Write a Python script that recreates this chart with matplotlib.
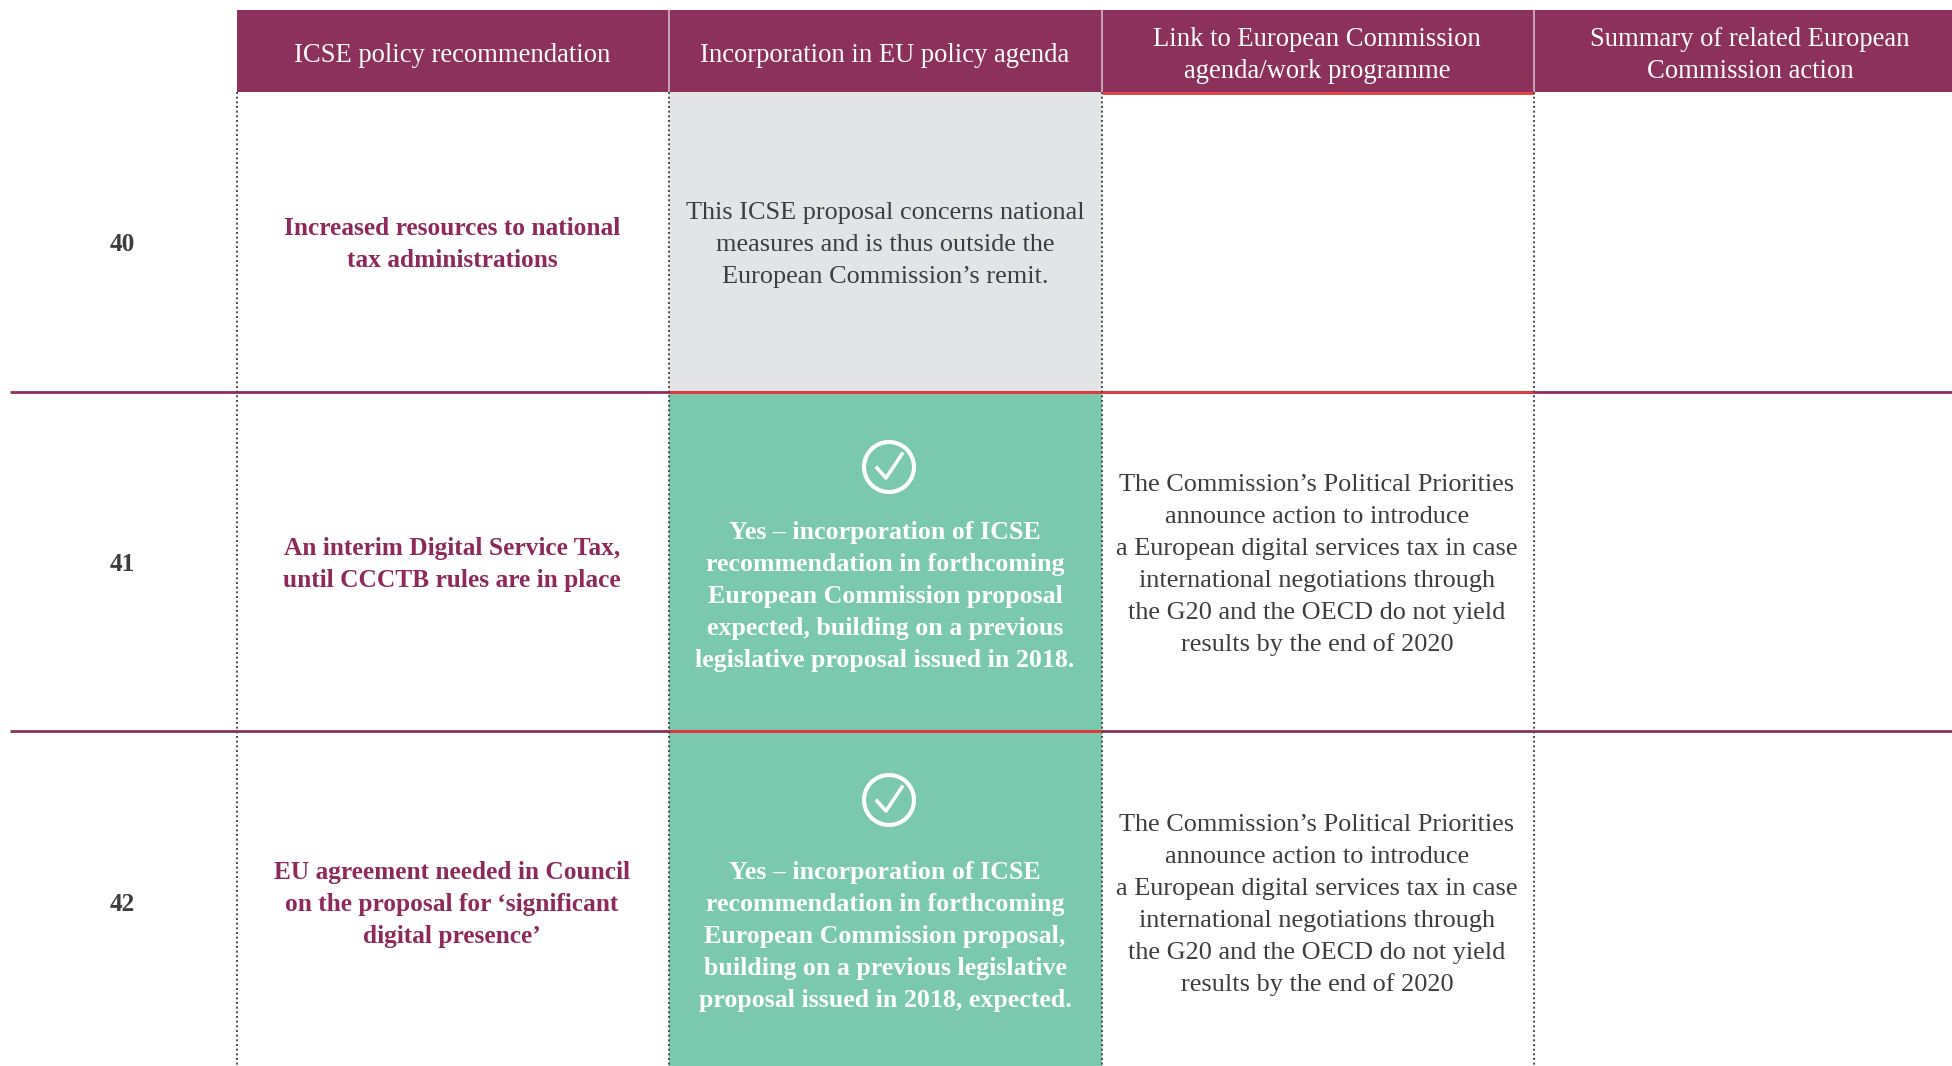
import matplotlib
matplotlib.use("Agg")
import matplotlib.pyplot as plt
from matplotlib.patches import Circle, Rectangle

plt.rcParams["font.family"] = ["Liberation Serif", "DejaVu Serif"]

WIDTH, HEIGHT = 1952, 1066
PLUM = "#8B315B"
ROSE = "#8E2A5B"
GREEN = "#7AC8AE"
GREY = "#E3E4E6"
RED = "#E5393B"
INK = "#3D3D3F"
LINE_PITCH = 32

col_edges = [237, 669, 1102, 1534, WIDTH]
row_edges = [92, 391.5, 731, HEIGHT]
col_centers = [452, 885, 1317, 1750]
row_centers = [243, 563, 903]
green_centers = [595, 935]
check_centers = [467, 800]

headers = [
    "ICSE policy recommendation",
    "Incorporation in EU policy agenda",
    "Link to European Commission\nagenda/work programme",
    "Summary of related European\nCommission action",
]
numbers = ["40", "41", "42"]
recommendations = [
    "Increased resources to national\ntax administrations",
    "An interim Digital Service Tax,\nuntil CCCTB rules are in place",
    "EU agreement needed in Council\non the proposal for ‘significant\ndigital presence’",
]
outside_remit = (
    "This ICSE proposal concerns national\n"
    "measures and is thus outside the\n"
    "European Commission’s remit."
)
green_texts = [
    "Yes – incorporation of ICSE\nrecommendation in forthcoming\nEuropean Commission proposal\n"
    "expected, building on a previous\nlegislative proposal issued in 2018.",
    "Yes – incorporation of ICSE\nrecommendation in forthcoming\nEuropean Commission proposal,\n"
    "building on a previous legislative\nproposal issued in 2018, expected.",
]
link_text = (
    "The Commission’s Political Priorities\n"
    "announce action to introduce\n"
    "a European digital services tax in case\n"
    "international negotiations through\n"
    "the G20 and the OECD do not yield\n"
    "results by the end of 2020"
)

fig = plt.figure(figsize=(WIDTH / 100, HEIGHT / 100), dpi=100)
ax = fig.add_axes([0, 0, 1, 1])
ax.set_xlim(0, WIDTH)
ax.set_ylim(HEIGHT, 0)
ax.axis("off")


def cell_text(x, y, text, size=18.9, color=INK, weight="normal"):
    # one text per line, matplotlib's own line pitch drifts with the glyphs
    lines = text.split("\n")
    for i, line in enumerate(lines):
        baseline = y + 8 + (i - (len(lines) - 1) / 2) * LINE_PITCH
        ax.text(x, baseline, line, ha="center", va="baseline", fontsize=size,
                color=color, fontweight=weight, zorder=5)


# header band and cell fills
ax.add_patch(Rectangle((col_edges[0], 10), WIDTH - col_edges[0], row_edges[0] - 10, color=PLUM, lw=0))
ax.add_patch(Rectangle((col_edges[1], row_edges[0]), col_edges[2] - col_edges[1],
                       row_edges[1] - row_edges[0], color=GREY, lw=0))
for top, bottom in zip(row_edges[1:-1], row_edges[2:]):
    ax.add_patch(Rectangle((col_edges[1], top), col_edges[2] - col_edges[1], bottom - top, color=GREEN, lw=0))

for x in col_edges[1:-1]:
    ax.plot([x, x], [10, row_edges[0]], color="#D9C3CF", lw=1.1, zorder=3)
for x in col_edges[:-1]:
    ax.plot([x, x], [row_edges[0], HEIGHT], color="#4A4A4A", lw=1.4, dashes=(1, 1.4),
            dash_capstyle="butt", zorder=4)

# row rules, red where they touch the highlighted cells
for y in row_edges[1:-1]:
    ax.plot([10, WIDTH], [y, y], color=PLUM, lw=2, zorder=3, solid_capstyle="butt")
ax.plot([col_edges[2], col_edges[3]], [row_edges[0] + 0.5] * 2, color=RED, lw=2, zorder=3, solid_capstyle="butt")
ax.plot([col_edges[1], col_edges[3]], [row_edges[1]] * 2, color=RED, lw=2, zorder=3, solid_capstyle="butt")
ax.plot([col_edges[1], col_edges[2]], [row_edges[2]] * 2, color=RED, lw=2, zorder=3, solid_capstyle="butt")

for x, label in zip(col_centers, headers):
    cell_text(x, 53.5, label, size=19.2, color="white")
for y, number, rec in zip(row_centers, numbers, recommendations):
    cell_text(122, y, number, size=18.2, weight="bold")
    cell_text(col_centers[0], y, rec, size=18.3, color=ROSE, weight="bold")
cell_text(col_centers[1], row_centers[0], outside_remit)
for y, text in zip(green_centers, green_texts):
    cell_text(col_centers[1], y, text, size=18.6, color="white", weight="bold")
for y in row_centers[1:]:
    cell_text(col_centers[2], y, link_text)

# tick-in-circle icons
for y in check_centers:
    ax.add_patch(Circle((889, y), 25, fill=False, ec="white", lw=3, zorder=5))
    ax.plot([877, 886, 902], [y + 1, y + 11, y - 13], color="white", lw=2.6, zorder=5)

fig.savefig("out.png", dpi=100, facecolor="white")
